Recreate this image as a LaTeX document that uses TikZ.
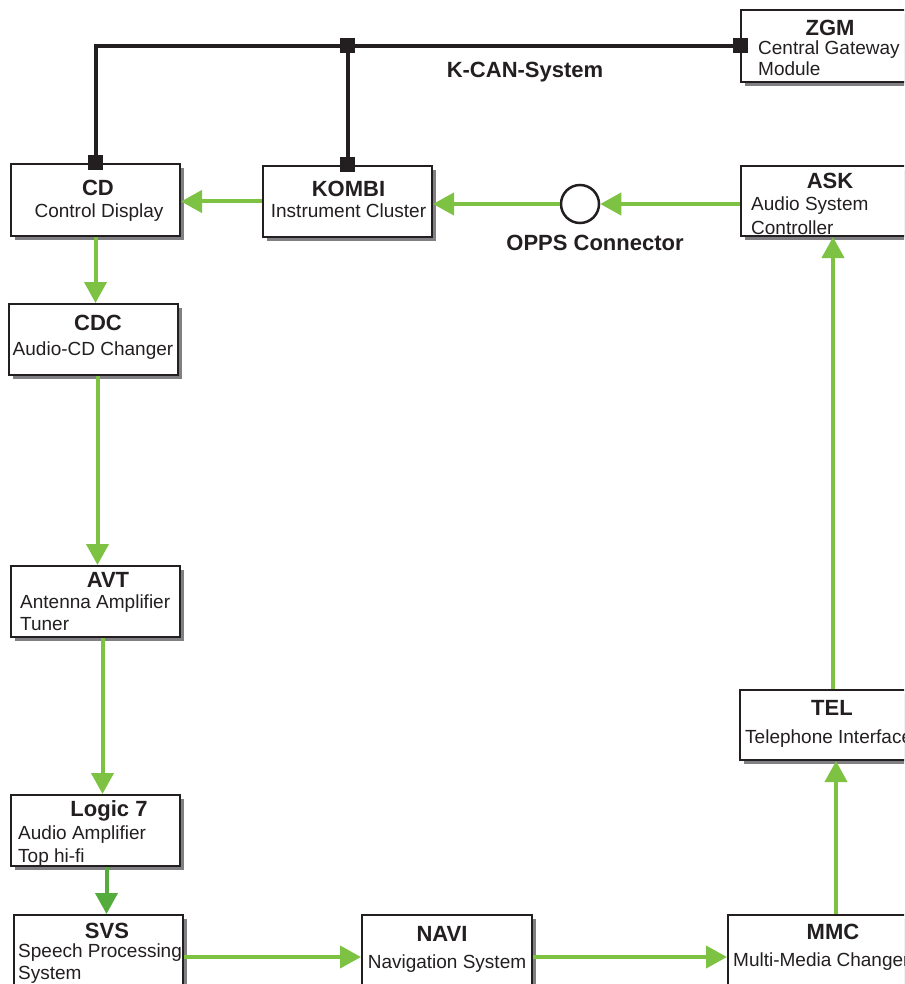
\documentclass[tikz,border=0pt]{standalone}
\usepackage{fontspec}
\setmainfont{Liberation Sans}
\usetikzlibrary{arrows.meta, shadows}
\definecolor{sigGreen}{RGB}{125,194,66}
\definecolor{sigDark}{RGB}{84,172,60}
\definecolor{shadowGray}{RGB}{128,128,132}
\definecolor{ink}{RGB}{35,31,32}

\begin{document}
\begin{tikzpicture}[x=1pt, y=-1pt,
  ecu/.style={rectangle, draw=ink, line width=2pt, fill=white, inner sep=0pt,
    drop shadow={shadow xshift=4pt, shadow yshift=-4pt, fill=shadowGray, opacity=1}},
  ecuname/.style={font=\fontsize{22}{24}\selectfont\bfseries, text=ink, inner sep=0pt, anchor=base},
  ecutext/.style={font=\fontsize{19}{22}\selectfont, text=ink, inner sep=0pt, anchor=base},
  ecutextl/.style={ecutext, anchor=base west},
  signal/.style={draw=sigGreen, line width=4pt, -{Triangle[length=21pt, width=22pt]}},
  can/.style={draw=ink, line width=4pt},
  tap/.style={rectangle, fill=ink, minimum size=15pt, inner sep=0pt}]

\useasboundingbox (0,0) rectangle (904,984);
\clip (0,0) rectangle (904,984);

% control units
\node[ecu, minimum width=180pt, minimum height=72pt] (zgm) at (831,46) {};
\node[ecu, minimum width=169pt, minimum height=72pt] (cd) at (95.5,200) {};
\node[ecu, minimum width=169pt, minimum height=71pt] (kombi) at (347.5,201.5) {};
\node[ecu, minimum width=184pt, minimum height=70pt] (ask) at (833,201) {};
\node[ecu, minimum width=169pt, minimum height=71pt] (cdc) at (93.5,339.5) {};
\node[ecu, minimum width=169pt, minimum height=71pt] (avt) at (95.5,601.5) {};
\node[ecu, minimum width=169pt, minimum height=71pt] (logic) at (95.5,830.5) {};
\node[ecu, minimum width=169pt, minimum height=84pt] (svs) at (98.5,957) {};
\node[ecu, minimum width=170pt, minimum height=84pt] (navi) at (447,957) {};
\node[ecu, minimum width=216pt, minimum height=84pt] (mmc) at (836,957) {};
\node[ecu, minimum width=192pt, minimum height=70pt] (tel) at (836,725) {};

% OPPS connector
\node[circle, draw=ink, line width=2.5pt, fill=white, minimum size=38pt, inner sep=0pt] (opps) at (580,204) {};

% texts
\node[ecuname] (zgm-n) at (830,36) {ZGM};
\node[ecutextl] (zgm-1) at (758,55) {Central Gateway};
\node[ecutextl] (zgm-2) at (758,76) {Module};

\node[ecuname] (cd-n) at (98,196) {CD};
\node[ecutext] (cd-1) at (99,218) {Control Display};

\node[ecuname] (kombi-n) at (348.5,197) {KOMBI};
\node[ecutext] (kombi-1) at (348.5,218) {Instrument Cluster};

\node[ecuname] (ask-n) at (830,189) {ASK};
\node[ecutextl] (ask-1) at (751,211) {Audio System};
\node[ecutextl] (ask-2) at (751,234) {Controller};

\node[ecuname] (cdc-n) at (98,330) {CDC};
\node[ecutext] (cdc-1) at (93,355) {Audio-CD Changer};

\node[ecuname] (avt-n) at (108,587) {AVT};
\node[ecutextl] (avt-1) at (20,608) {Antenna Amplifier};
\node[ecutextl] (avt-2) at (20,630) {Tuner};

\node[ecuname] (logic-n) at (109,816) {Logic 7};
\node[ecutextl] (logic-1) at (18,839) {Audio Amplifier};
\node[ecutextl] (logic-2) at (18,862) {Top hi-fi};

\node[ecuname] (svs-n) at (107,938) {SVS};
\node[ecutextl] (svs-1) at (18,957) {Speech Processing};
\node[ecutextl] (svs-2) at (18,979) {System};

\node[ecuname] (navi-n) at (442,941) {NAVI};
\node[ecutext] (navi-1) at (447,968) {Navigation System};

\node[ecuname] (mmc-n) at (833,939) {MMC};
\node[ecutextl] (mmc-1) at (733,966) {Multi-Media Changer};

\node[ecuname] (tel-n) at (832,715) {TEL};
\node[ecutextl] (tel-1) at (745,743) {Telephone Interface};

\node[ecuname] (kcan) at (525,78) {K-CAN-System};
\node[ecuname] (opps-l) at (595,251) {OPPS Connector};

% K-CAN bus
\draw[can] (cd.north) |- (zgm.west);
\draw[can] (kombi.north) -- (kombi.north |- zgm.west);
\node[tap] (tap-cd) at (cd.north) {};
\node[tap] (tap-kombi) at (kombi.north) {};
\node[tap] (tap-bus) at (kombi.north |- zgm.west) {};
\node[tap] (tap-zgm) at (zgm.west) {};

% optical ring
\draw[signal] (ask.west |- opps.east) -- (opps.east);
\draw[signal] (opps.west) -- (opps.west -| kombi.east);
\draw[signal] (kombi.west) -- (kombi.west -| cd.east);
\draw[signal] (cd.south) -- (cd.south |- cdc.north);
\draw[signal] ([xshift=4pt]cdc.south) -- ([xshift=4pt]cdc.south |- avt.north);
\draw[signal] ([xshift=7pt]avt.south) -- ([xshift=7pt]avt.south |- logic.north);
\draw[signal, draw=sigDark] ([xshift=11pt]logic.south) -- ([xshift=11pt]logic.south |- svs.north);
\draw[signal] (svs.east) -- (navi.west);
\draw[signal] (navi.east) -- (mmc.west);
\draw[signal] (mmc.north) -- (tel.south);
\draw[signal] (ask.south |- tel.north) -- (ask.south);
\end{tikzpicture}
\end{document}
